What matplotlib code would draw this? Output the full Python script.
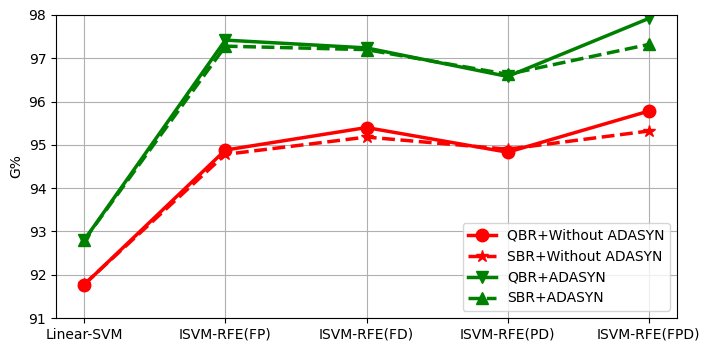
import numpy as np
from matplotlib import pyplot as plt

methods = ['Linear-SVM', 'ISVM-RFE(FP)', 'ISVM-RFE(FD)', 'ISVM-RFE(PD)', 'ISVM-RFE(FPD)']
qbr_without = [91.77, 94.88, 95.40, 94.83, 95.78]
sbr_without = [91.78, 94.78, 95.18, 94.90, 95.32]
qbr_adasyn = [92.80, 97.42, 97.24, 96.58, 97.92]
sbr_adasyn = [92.80, 97.28, 97.20, 96.63, 97.32]

fig = plt.figure(figsize=(7.1, 3.51), dpi=100)
ax = fig.add_axes([56 / 710, 33 / 351, 621 / 710, 303 / 351])
x = np.arange(len(methods))
ax.plot(x, qbr_without, 'r-', marker='o', markersize=9, linewidth=2.5, label='QBR+Without ADASYN')
ax.plot(x, sbr_without, 'r--', marker='*', markersize=9, linewidth=2.5, label='SBR+Without ADASYN')
ax.plot(x, qbr_adasyn, 'g-', marker='v', markersize=9, linewidth=2.5, label='QBR+ADASYN')
ax.plot(x, sbr_adasyn, 'g--', marker='^', markersize=9, linewidth=2.5, label='SBR+ADASYN')
ax.set_xticks(x)
ax.set_xticklabels(methods)
ax.set_ylim(91, 98)
ax.set_xlim(-0.2, 4.2)
ax.set_ylabel('G%')
ax.grid()
ax.legend(loc='lower right')
plt.savefig('out.png', dpi=100)
